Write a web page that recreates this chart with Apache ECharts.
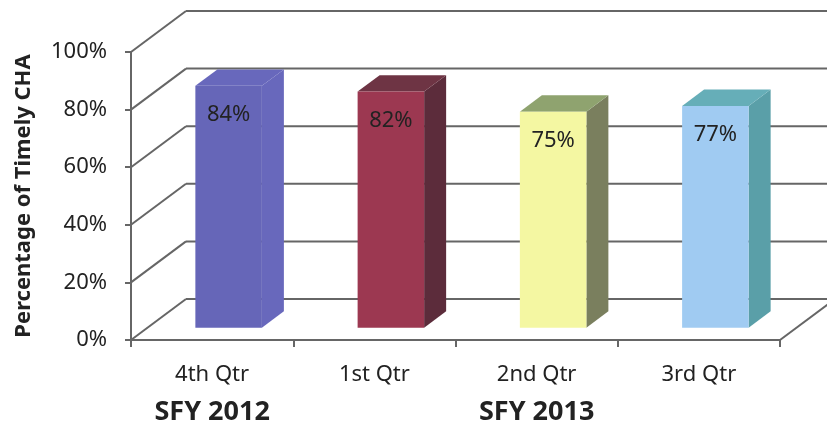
<!DOCTYPE html>
<html>
<head>
<meta charset="utf-8">
<script src="https://cdn.jsdelivr.net/npm/echarts@6/dist/echarts.min.js"></script>
<style>
  html, body { margin: 0; padding: 0; background: #fff; }
  #chart { width: 827px; height: 428px; }
</style>
</head>
<body>
<div id="chart"></div>
<script>
// data
var quarters = ["4th Qtr", "1st Qtr", "2nd Qtr", "3rd Qtr"];
var fiscalYears = ["SFY 2012", "", "SFY 2013", ""];
var timely = [84, 82, 75, 77];
var yTicks = [0, 20, 40, 60, 80, 100];

// faces of the fake 3d bars
var frontColors = ["#6666b8", "#9c3851", "#f4f7a2", "#a0cbf2"];
var sideColors = ["#6868bc", "#5c2c3b", "#7a7f5e", "#5a9fa8"];
var topColors = ["#6868bc", "#6e3444", "#8fa36f", "#66aeb8"];

var DX = 55, DY = -41; // depth of the box
var lineColor = "#666";

var chart = echarts.init(document.getElementById("chart"));

chart.setOption({
  backgroundColor: "#fff",
  animation: false,
  grid: { left: 131, right: 47, top: 52, bottom: 88 },
  xAxis: [
    {
      type: "category",
      data: quarters,
      axisLine: { lineStyle: { color: lineColor, width: 2 } },
      axisTick: { show: true, length: 7, lineStyle: { color: lineColor, width: 2 } },
      axisLabel: { margin: 24, fontSize: 22, color: "#222", fontFamily: "Noto Sans" }
    },
    {
      type: "category",
      data: fiscalYears,
      position: "bottom",
      axisLine: { show: false },
      axisTick: { show: false },
      axisLabel: {
        margin: 59, fontSize: 27, fontWeight: "bold", color: "#222",
        fontFamily: "Noto Sans", interval: 0
      }
    }
  ],
  yAxis: {
    type: "value",
    min: 0,
    max: 100,
    interval: 20,
    name: "Percentage of Timely CHA",
    nameLocation: "middle",
    nameGap: 96,
    nameTextStyle: { fontSize: 22, fontWeight: "bold", color: "#222", fontFamily: "Noto Sans" },
    axisLine: { show: true, lineStyle: { color: lineColor, width: 2 } },
    axisTick: { show: true, length: 6, lineStyle: { color: lineColor, width: 2 } },
    axisLabel: { formatter: "{value}%", margin: 24, fontSize: 22, color: "#222", fontFamily: "Noto Sans" },
    splitLine: { show: false }
  },
  series: [
    {
      // back wall + floor lines
      type: "custom",
      z: 1,
      silent: true,
      data: yTicks,
      encode: { y: 0 },
      renderItem: function (params, api) {
        var cs = params.coordSys;
        var y = api.coord([0, api.value(0)])[1];
        var x0 = cs.x, x1 = cs.x + cs.width;
        var st = { stroke: lineColor, lineWidth: 2 };
        var kids = [
          { type: "line", shape: { x1: x0, y1: y, x2: x0 + DX, y2: y + DY }, style: st },
          { type: "line", shape: { x1: x0 + DX, y1: y + DY, x2: x1 + DX, y2: y + DY }, style: st }
        ];
        if (api.value(0) === 0) {
          kids.push({ type: "line", shape: { x1: x1, y1: y, x2: x1 + DX, y2: y + DY }, style: st });
        }
        return { type: "group", children: kids };
      }
    },
    {
      type: "custom",
      z: 3,
      data: timely.map(function (v, i) { return [i, v]; }),
      encode: { x: 0, y: 1 },
      renderItem: function (params, api) {
        var i = api.value(0);
        var base = api.coord([i, 0]);
        var top = api.coord([i, api.value(1)]);
        var band = api.size([1, 0])[0];
        var w = band * 0.41;
        var fx = base[0] - w / 2 + 0.3 * DX;
        var ty = top[1] + 0.3 * DY;
        var by = base[1] + 0.3 * DY;
        var sx = 0.4 * DX, sy = 0.4 * DY;
        return {
          type: "group",
          children: [
            {
              type: "polygon",
              shape: { points: [[fx + w, ty], [fx + w + sx, ty + sy], [fx + w + sx, by + sy], [fx + w, by]] },
              style: { fill: sideColors[i] }
            },
            {
              type: "polygon",
              shape: { points: [[fx, ty], [fx + sx, ty + sy], [fx + w + sx, ty + sy], [fx + w, ty]] },
              style: { fill: topColors[i] }
            },
            {
              type: "rect",
              shape: { x: fx, y: ty, width: w, height: by - ty },
              style: { fill: frontColors[i] }
            },
            {
              type: "text",
              style: {
                x: fx + w / 2, y: ty + 29,
                text: api.value(1) + "%",
                align: "center", verticalAlign: "middle",
                fontSize: 22, fill: "#222", fontFamily: "Noto Sans"
              }
            }
          ]
        };
      }
    }
  ]
});
</script>
</body>
</html>
